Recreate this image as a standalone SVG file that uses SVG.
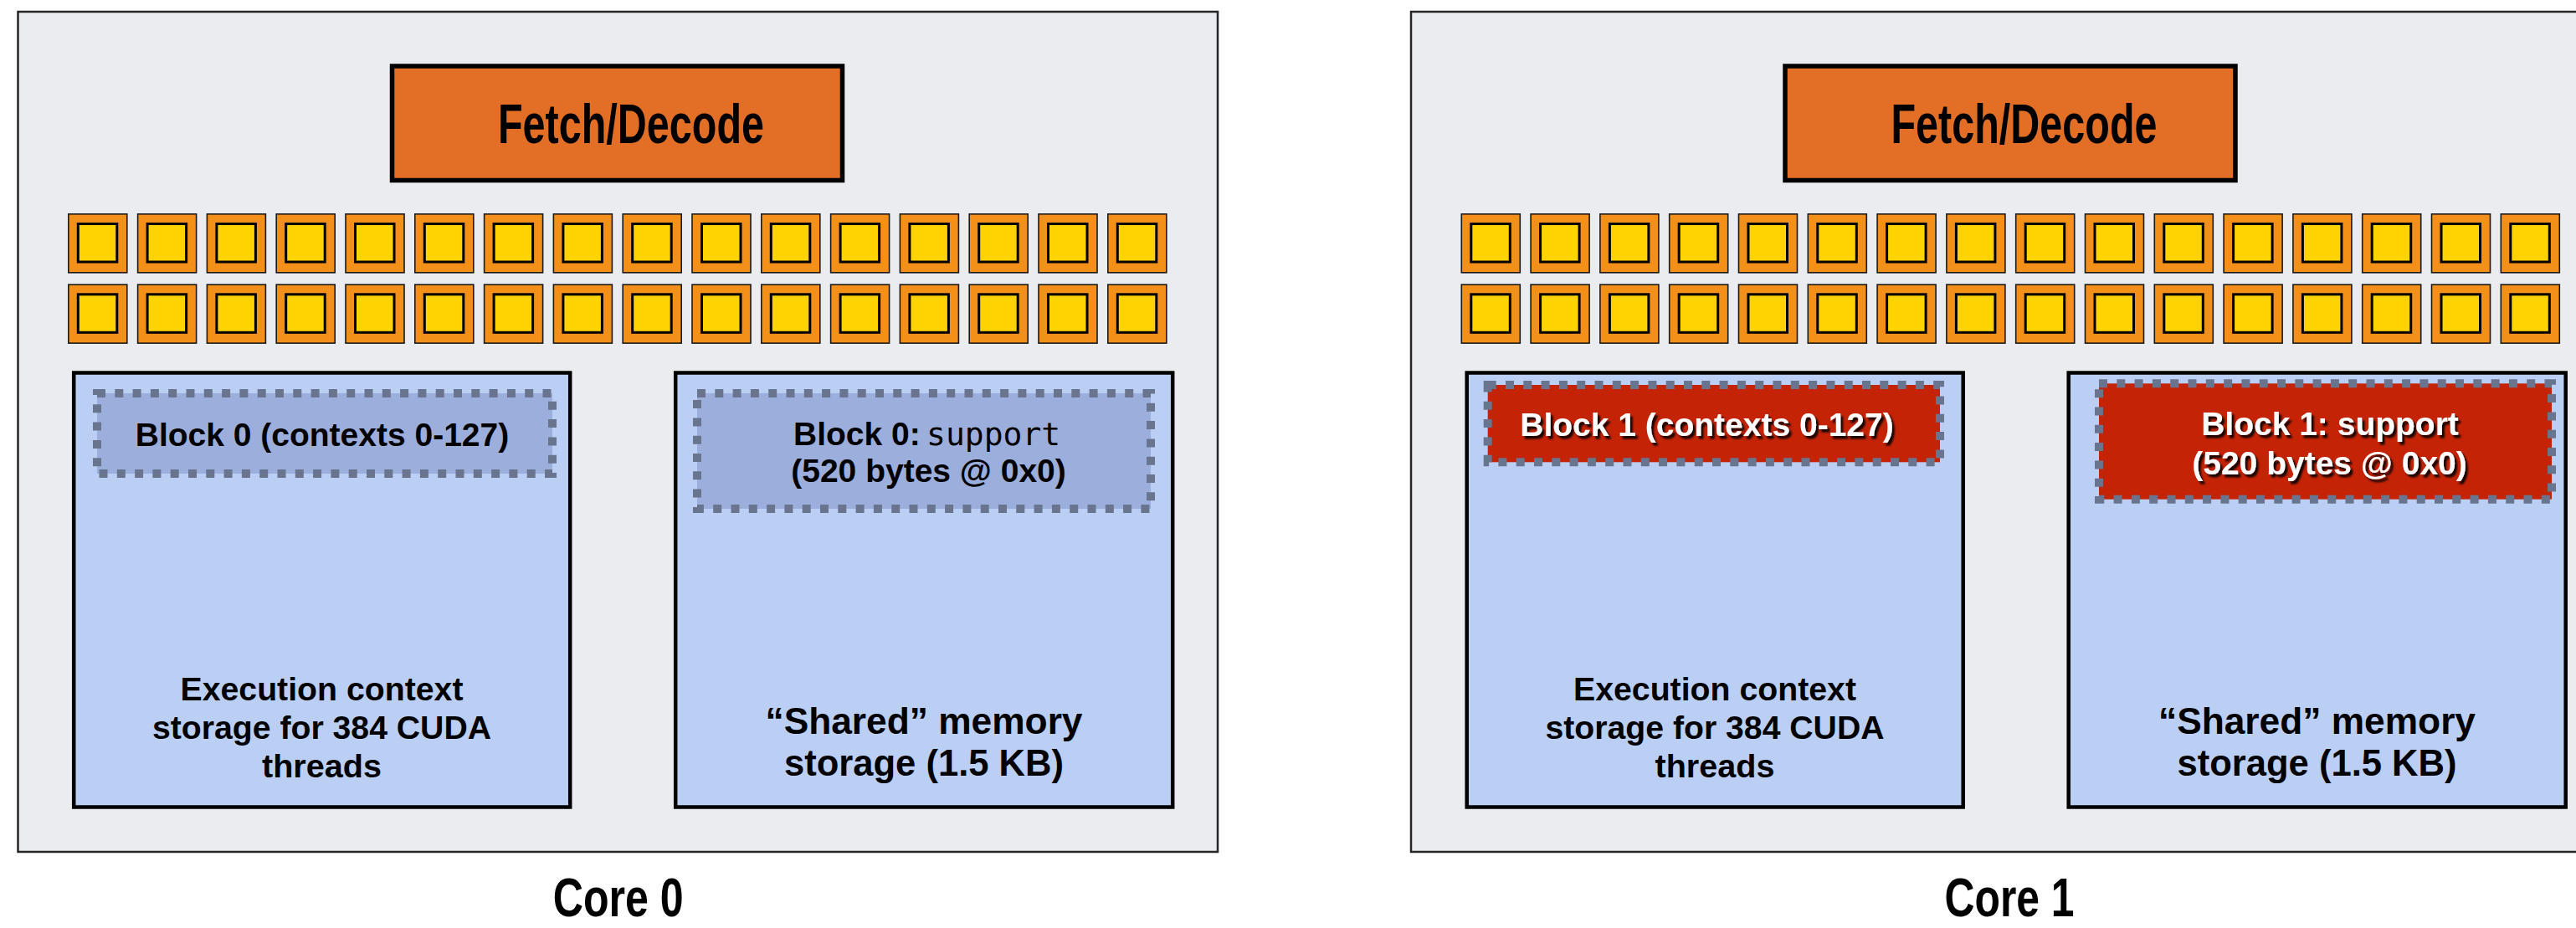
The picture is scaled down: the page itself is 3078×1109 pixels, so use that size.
<svg xmlns="http://www.w3.org/2000/svg" xmlns:xlink="http://www.w3.org/1999/xlink" width="3078" height="1109" viewBox="0 0 3078 1109">
<defs>
<style>
.core{fill:#EBECF0;stroke:#262626;stroke-width:2.5}
.fetch{fill:#E36E25;stroke:#000;stroke-width:5.5}
.alu-o{fill:#F39019;stroke:#1a1a1a;stroke-width:1.6}
.alu-i{fill:#FFD300;stroke:#000;stroke-width:3}
.store{fill:#BBCFF5;stroke:#000;stroke-width:4.5}
.blk0{fill:#9CAEDB;stroke:#69748F;stroke-width:10;stroke-dasharray:10 11.3}
.blk1{fill:#C42306;stroke:#69748F;stroke-width:10;stroke-dasharray:10 11.3}
text{font-family:"Liberation Sans",Arial,sans-serif;font-weight:bold;fill:#000}
.big{font-size:66px}
.lbl{font-size:64px}
.b38{font-size:39px}
.ex{font-size:39px}
.sh{font-size:44px}
.mono{font-family:"DejaVu Sans Mono","Liberation Mono",monospace;font-weight:normal;font-size:38px}
.w{fill:#fff}
.mid{text-anchor:middle}
</style>
<g id="alu">
<rect class="alu-o" x="0.8" y="0.8" width="70" height="70"/>
<rect class="alu-i" x="12.3" y="12.5" width="46.5" height="45.5"/>
</g>
<filter id="shadow" x="-10%" y="-30%" width="120%" height="160%">
<feDropShadow dx="3" dy="3.5" stdDeviation="1.3" flood-color="#000" flood-opacity="0.9"/>
</filter>
</defs>
<rect width="3078" height="1109" fill="#fff"/>

<g id="core0">
<rect class="core" x="21.5" y="14" width="1433.5" height="1004"/>
<g id="core0-fetch">
<rect class="fetch" x="468.5" y="79" width="538" height="136.5"/>
<text class="big" x="595" y="171" textLength="318" lengthAdjust="spacingAndGlyphs">Fetch/Decode</text>
</g>
<g id="core0-alus">
<use xlink:href="#alu" x="81" y="255"/><use xlink:href="#alu" x="163.8" y="255"/><use xlink:href="#alu" x="246.6" y="255"/><use xlink:href="#alu" x="329.4" y="255"/><use xlink:href="#alu" x="412.2" y="255"/><use xlink:href="#alu" x="495" y="255"/><use xlink:href="#alu" x="577.8" y="255"/><use xlink:href="#alu" x="660.6" y="255"/><use xlink:href="#alu" x="743.4" y="255"/><use xlink:href="#alu" x="826.2" y="255"/><use xlink:href="#alu" x="909" y="255"/><use xlink:href="#alu" x="991.8" y="255"/><use xlink:href="#alu" x="1074.6" y="255"/><use xlink:href="#alu" x="1157.4" y="255"/><use xlink:href="#alu" x="1240.2" y="255"/><use xlink:href="#alu" x="1323" y="255"/>
<use xlink:href="#alu" x="81" y="339.3"/><use xlink:href="#alu" x="163.8" y="339.3"/><use xlink:href="#alu" x="246.6" y="339.3"/><use xlink:href="#alu" x="329.4" y="339.3"/><use xlink:href="#alu" x="412.2" y="339.3"/><use xlink:href="#alu" x="495" y="339.3"/><use xlink:href="#alu" x="577.8" y="339.3"/><use xlink:href="#alu" x="660.6" y="339.3"/><use xlink:href="#alu" x="743.4" y="339.3"/><use xlink:href="#alu" x="826.2" y="339.3"/><use xlink:href="#alu" x="909" y="339.3"/><use xlink:href="#alu" x="991.8" y="339.3"/><use xlink:href="#alu" x="1074.6" y="339.3"/><use xlink:href="#alu" x="1157.4" y="339.3"/><use xlink:href="#alu" x="1240.2" y="339.3"/><use xlink:href="#alu" x="1323" y="339.3"/>
</g>
<g id="core0-exec">
<rect class="store" x="88.2" y="445.5" width="593" height="519"/>
<text class="ex mid" x="384.5" y="837" textLength="338" lengthAdjust="spacingAndGlyphs">Execution context</text>
<text class="ex mid" x="384.5" y="883" textLength="405" lengthAdjust="spacingAndGlyphs">storage for 384 CUDA</text>
<text class="ex mid" x="384.5" y="929" textLength="143" lengthAdjust="spacingAndGlyphs">threads</text>
</g>
<g id="core0-block0-ctx">
<rect class="blk0" x="116" y="470" width="544" height="96"/>
<text class="b38 mid" x="385" y="533">Block 0 (contexts 0-127)</text>
</g>
<g id="core0-shared">
<rect class="store" x="807.2" y="445.5" width="594" height="519"/>
<text class="sh mid" x="1104" y="877" textLength="379" lengthAdjust="spacingAndGlyphs">“Shared” memory</text>
<text class="sh mid" x="1104" y="927" textLength="334" lengthAdjust="spacingAndGlyphs">storage (1.5 KB)</text>
</g>
<g id="core0-block0-shm">
<rect class="blk0" x="833" y="470" width="542" height="138"/>
<text class="b38" y="532"><tspan x="948">Block 0: </tspan><tspan class="mono" x="1107">support</tspan></text>
<text class="b38 mid" x="1109.5" y="576">(520 bytes @ 0x0)</text>
</g>
<text id="core0-label" class="lbl" x="660.7" y="1095" textLength="156" lengthAdjust="spacingAndGlyphs">Core 0</text>
</g>

<g id="core1">
<rect class="core" x="1686" y="14" width="1433.5" height="1004"/>
<g id="core1-fetch">
<rect class="fetch" x="2133" y="79" width="538" height="136.5"/>
<text class="big" x="2259.5" y="171" textLength="318" lengthAdjust="spacingAndGlyphs">Fetch/Decode</text>
</g>
<g id="core1-alus">
<use xlink:href="#alu" x="1745.5" y="255"/><use xlink:href="#alu" x="1828.3" y="255"/><use xlink:href="#alu" x="1911.1" y="255"/><use xlink:href="#alu" x="1993.9" y="255"/><use xlink:href="#alu" x="2076.7" y="255"/><use xlink:href="#alu" x="2159.5" y="255"/><use xlink:href="#alu" x="2242.3" y="255"/><use xlink:href="#alu" x="2325.1" y="255"/><use xlink:href="#alu" x="2407.9" y="255"/><use xlink:href="#alu" x="2490.7" y="255"/><use xlink:href="#alu" x="2573.5" y="255"/><use xlink:href="#alu" x="2656.3" y="255"/><use xlink:href="#alu" x="2739.1" y="255"/><use xlink:href="#alu" x="2821.9" y="255"/><use xlink:href="#alu" x="2904.7" y="255"/><use xlink:href="#alu" x="2987.5" y="255"/>
<use xlink:href="#alu" x="1745.5" y="339.3"/><use xlink:href="#alu" x="1828.3" y="339.3"/><use xlink:href="#alu" x="1911.1" y="339.3"/><use xlink:href="#alu" x="1993.9" y="339.3"/><use xlink:href="#alu" x="2076.7" y="339.3"/><use xlink:href="#alu" x="2159.5" y="339.3"/><use xlink:href="#alu" x="2242.3" y="339.3"/><use xlink:href="#alu" x="2325.1" y="339.3"/><use xlink:href="#alu" x="2407.9" y="339.3"/><use xlink:href="#alu" x="2490.7" y="339.3"/><use xlink:href="#alu" x="2573.5" y="339.3"/><use xlink:href="#alu" x="2656.3" y="339.3"/><use xlink:href="#alu" x="2739.1" y="339.3"/><use xlink:href="#alu" x="2821.9" y="339.3"/><use xlink:href="#alu" x="2904.7" y="339.3"/><use xlink:href="#alu" x="2987.5" y="339.3"/>
</g>
<g id="core1-exec">
<rect class="store" x="1752.7" y="445.5" width="593" height="519"/>
<text class="ex mid" x="2049" y="837" textLength="338" lengthAdjust="spacingAndGlyphs">Execution context</text>
<text class="ex mid" x="2049" y="883" textLength="405" lengthAdjust="spacingAndGlyphs">storage for 384 CUDA</text>
<text class="ex mid" x="2049" y="929" textLength="143" lengthAdjust="spacingAndGlyphs">threads</text>
</g>
<g id="core1-block1-ctx">
<rect class="blk1" x="1777.7" y="460" width="540.3" height="92.3"/>
<text class="b38 mid w" x="2039.5" y="521" filter="url(#shadow)">Block 1 (contexts 0-127)</text>
</g>
<g id="core1-shared">
<rect class="store" x="2471.7" y="445.5" width="594" height="519"/>
<text class="sh mid" x="2768.5" y="877" textLength="379" lengthAdjust="spacingAndGlyphs">“Shared” memory</text>
<text class="sh mid" x="2768.5" y="927" textLength="334" lengthAdjust="spacingAndGlyphs">storage (1.5 KB)</text>
</g>
<g id="core1-block1-shm">
<rect class="blk1" x="2508" y="458.3" width="541" height="138.4"/>
<text class="b38 mid w" x="2784" y="520" filter="url(#shadow)">Block 1: support</text>
<text class="b38 mid w" x="2783.5" y="567" filter="url(#shadow)">(520 bytes @ 0x0)</text>
</g>
<text id="core1-label" class="lbl" x="2323.5" y="1095" textLength="155" lengthAdjust="spacingAndGlyphs">Core 1</text>
</g>
<g id="connectors"/>
</svg>
